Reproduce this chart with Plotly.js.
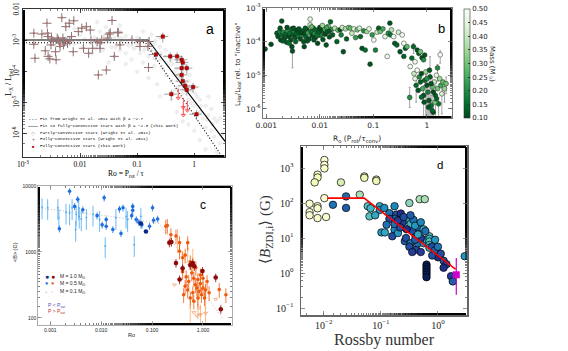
<!DOCTYPE html>
<html>
<head>
<meta charset="utf-8">
<script src="https://cdn.plot.ly/plotly-3.0.1.min.js"></script>
<style>
html, body { margin: 0; padding: 0; background: #fff; }
#fig { width: 568px; height: 351px; }
</style>
</head>
<body>
<div id="fig"></div>
<script>
// ---- panel a : X-ray activity (log Ro, log Lx/Lbol) ----
var aGray = [[-2.3,-3.0],[-2.2,-2.9],[-2.1,-3.1],[-2.0,-2.8],[-1.95,-3.2],[-1.9,-2.6],[-1.85,-3.0],[-1.8,-3.4],[-1.75,-2.9],[-1.7,-3.1],
  [-1.65,-2.7],[-1.6,-3.3],[-1.55,-3.0],[-1.5,-2.8],[-1.45,-3.2],[-1.4,-3.5],[-1.4,-2.9],[-1.35,-3.1],[-1.3,-2.7],[-1.3,-3.3],
  [-1.25,-3.0],[-1.2,-2.85],[-1.2,-3.4],[-1.15,-3.15],[-1.1,-2.95],[-1.1,-3.6],[-1.05,-3.25],[-1.0,-2.9],[-1.0,-3.1],[-0.95,-3.4],
  [-0.9,-3.0],[-0.9,-3.7],[-0.85,-3.2],[-0.8,-2.95],[-0.8,-3.5],[-0.75,-3.3],[-0.7,-3.1],[-0.7,-3.8],[-0.65,-3.4],[-0.6,-3.6],
  [-0.6,-3.2],[-0.55,-3.9],[-0.5,-3.5],[-0.5,-4.1],[-0.45,-3.8],[-0.4,-4.3],[-0.4,-3.6],[-0.35,-4.0],[-0.3,-4.5],[-0.3,-3.9],
  [-0.25,-4.2],[-0.2,-4.7],[-0.2,-4.0],[-0.15,-4.4],[-0.1,-4.9],[-0.1,-4.3],[-0.05,-4.6],[0.0,-5.1],[0.0,-4.5],[0.05,-4.8],
  [0.1,-5.3],[0.1,-4.9],[0.15,-5.5],[0.2,-5.1],[0.2,-5.8],[0.25,-5.4],[0.3,-5.9],[0.3,-5.2],[0.35,-6.1],[0.4,-5.6],
  [0.45,-6.3],[0.5,-6.0],[-0.6,-4.8],[-0.8,-4.2],[-0.3,-5.3],[-0.1,-5.7],[0.1,-6.2],[-1.5,-3.7],[-1.0,-4.0],[-0.4,-4.9],
  [0.2,-6.5],[-0.2,-5.6],[-0.9,-2.7],[-1.3,-2.5],[-1.7,-2.4],[-0.6,-2.9],[-0.75,-2.8],[-2.1,-2.6],[-1.55,-2.55],[0.35,-5.5],
  [0.45,-5.5],[-0.05,-5.0],[0.25,-4.8],[-1.2,-3.75],[-0.65,-4.4],[-0.35,-4.6],[0.0,-5.9],[0.4,-6.6],
  [-1.62,-3.05],[-1.48,-3.02],[-1.38,-3.2],[-1.28,-2.92],[-1.18,-3.05],[-1.08,-3.18],[-0.98,-3.02],[-0.88,-3.3],[-0.78,-3.12],
  [-0.68,-3.0],[-0.58,-3.4],[-0.48,-3.7],[-0.38,-3.75],[-0.28,-4.1],[-0.18,-4.55],[-0.08,-4.1],[0.02,-4.7],[0.12,-5.1],[0.22,-5.55],
  [0.32,-5.7],[-1.72,-3.25],[-1.92,-2.95],[-2.02,-3.05],[-1.58,-2.82],[-0.7,-3.55],[-0.5,-3.3],[-0.3,-3.6],[-0.15,-3.8]];
var aWright = [[-2.81,-2.75],[-2.81,-3.11],[-2.79,-3.56],[-2.67,-2.78],[-2.61,-3.32],[-2.58,-2.43],[-2.57,-2.75],[-2.56,-2.86],
  [-2.56,-3.50],[-2.53,-3.58],[-2.50,-2.91],[-2.51,-3.13],[-2.43,-3.35],[-2.42,-3.61],[-2.40,-2.91],[-2.36,-3.07],[-2.35,-3.18],
  [-2.32,-2.25],[-2.30,-2.91],[-2.29,-3.13],[-2.25,-2.54],[-2.19,-2.43],[-2.18,-3.00],[-2.15,-2.86],[-2.11,-2.35],[-2.12,-3.35],
  [-2.03,-2.70],[-1.97,-2.59],[-1.94,-3.24],[-1.89,-2.54],[-1.85,-3.40],[-1.82,-2.65],[-1.81,-2.97],[-1.78,-3.24],[-1.68,-4.10],
  [-1.65,-3.24],[-1.62,-2.97],[-1.54,-3.94],[-1.52,-2.91],[-1.49,-2.78],[-1.44,-2.34],[-1.40,-3.50],[-1.34,-2.72],[-1.30,-3.13],
  [-1.70,-3.03],[-1.65,-3.06],[-1.47,-2.74],[-1.33,-2.74],[-1.09,-2.97],[-0.95,-3.02],[-0.95,-3.18],[-0.79,-3.02],[-0.81,-3.18],
  [-0.80,-3.86],[-2.47,-3.02],[-2.38,-2.98],[-2.27,-3.02],[-2.22,-3.08]];
var aThis = [[-0.55,-2.86],[-0.67,-3.44],[-0.42,-3.50],[-0.30,-3.50],[-0.22,-3.61],[-0.20,-3.70],[-0.22,-3.88],[-0.13,-3.88],
  [-0.22,-4.10],[-0.20,-4.30],[-0.16,-4.45],[-0.02,-4.49],[-0.13,-4.58],[-0.40,-4.72],[0.04,-5.37]];
var aLimits = [[-0.28,-4.55],[-0.19,-4.85],[-0.12,-4.95],[-0.19,-5.10]];
var aFitRo = [0.001, 0.155, 3.5];
var aFitL = [1.07e-3, 1.07e-3, 5.6e-7];
var aWrightFitRo = [0.001, 0.14, 3.1];
var aWrightFitL = [8.7e-4, 8.7e-4, 1.8e-7];
var aLegend = ['Fit from Wright et al. 2011 with β = −2.7', 'Fit to fully−convective stars with β = −2.3 (this work)',
  'Partly−convective stars (Wright et al. 2011)', 'Fully−convective stars (Wright et al. 2011)', 'Fully−convective stars (this work)'];

// ---- panel b : H-alpha activity (log Ro, log L, mass) ----
var bStars = [[-3.02,-4.22,0.12],[-2.91,-4.08,0.11],[-2.71,-3.39,0.12],[-2.80,-3.75,0.13],[-2.78,-3.85,0.12],[-2.75,-3.70,0.18],
  [-2.73,-3.95,0.11],[-2.70,-3.80,0.15],[-2.68,-3.72,0.2],[-2.66,-3.90,0.12],[-2.64,-3.78,0.14],[-2.62,-4.02,0.13],[-2.60,-3.68,0.22],
  [-2.58,-3.85,0.11],[-2.56,-3.75,0.16],[-2.54,-3.95,0.12],[-2.52,-4.15,0.11],[-2.52,-3.62,0.15],[-2.50,-3.80,0.13],[-2.48,-3.70,0.19],
  [-2.46,-3.88,0.12],[-2.44,-3.76,0.14],[-2.42,-3.66,0.11],[-2.40,-3.84,0.17],[-2.38,-3.72,0.13],[-2.36,-3.92,0.12],[-2.34,-3.80,0.21],
  [-2.32,-3.68,0.15],[-2.30,-4.00,0.12],[-2.28,-3.76,0.11],[-2.26,-3.86,0.14],[-2.24,-3.64,0.13],[-2.22,-3.74,0.24],[-2.20,-3.92,0.12],
  [-2.18,-3.33,0.45],[-2.18,-3.50,0.40],[-2.16,-3.70,0.16],[-2.14,-3.82,0.11],[-2.12,-3.60,0.13],[-2.10,-3.76,0.2],[-2.08,-3.88,0.12],
  [-2.06,-3.66,0.15],[-2.04,-4.05,0.11],[-2.02,-3.72,0.14],[-2.00,-3.58,0.12],[-1.98,-3.82,0.18],[-1.96,-3.68,0.13],[-1.94,-3.94,0.12],
  [-1.92,-3.62,0.26],[-1.90,-3.78,0.11],[-1.88,-4.10,0.12],[-1.86,-3.70,0.15],[-1.84,-3.55,0.32],[-1.82,-3.86,0.12],[-1.80,-3.41,0.14],
  [-1.78,-3.64,0.2],[-1.76,-3.80,0.13],[-2.74,-3.60,0.12],[-2.69,-3.98,0.13],[-2.61,-3.58,0.11],[-2.57,-4.05,0.15],[-2.49,-3.60,0.12],
  [-2.45,-4.00,0.14],[-2.39,-3.62,0.12],[-2.35,-3.74,0.11],[-2.27,-3.60,0.13],[-2.23,-3.98,0.12],[-2.15,-3.56,0.28],[-2.11,-3.95,0.12],
  [-2.05,-3.82,0.16],[-1.99,-3.62,0.11],[-1.95,-3.52,0.35],[-1.87,-3.58,0.24],[-1.83,-3.70,0.12],[-2.51,-4.28,0.12],[-2.29,-4.15,0.11],
  [-1.72,-3.60,0.38],[-1.68,-4.00,0.14],[-1.66,-3.66,0.3],[-1.62,-3.65,0.12],[-1.60,-3.80,0.18],[-1.58,-3.58,0.42],[-1.56,-4.30,0.12],
  [-1.52,-3.62,0.36],[-1.50,-3.92,0.13],[-1.46,-3.58,0.33],[-1.43,-3.60,0.28],[-1.40,-3.75,0.4],[-1.36,-3.62,0.45],[-1.33,-3.88,0.22],
  [-1.30,-3.65,0.3],[-1.26,-3.60,0.42],[-1.24,-3.85,0.14],[-1.21,-4.20,0.12],[-1.18,-3.68,0.2],[-1.15,-4.25,0.15],[-1.12,-3.70,0.35],
  [-1.08,-3.62,0.46],[-1.06,-4.67,0.12],[-1.02,-3.80,0.22],[-0.99,-3.95,0.5],[-0.96,-4.25,0.18],[-0.93,-3.72,0.4],[-0.90,-3.60,0.13],
  [-0.87,-3.70,0.3],[-0.82,-3.62,0.25],[-0.78,-3.85,0.45],[-0.74,-4.44,0.48],[-0.72,-3.75,0.2],[-0.69,-3.45,0.12],[-0.68,-3.80,0.16],
  [-0.66,-3.65,0.38],[-0.62,-3.85,0.48],[-0.60,-4.05,0.13],[-0.56,-4.10,0.14],[-0.53,-3.72,0.42],[-0.50,-4.30,0.12],[-0.46,-3.80,0.5],
  [-0.43,-4.05,0.5],[-0.43,-4.44,0.13],[-0.40,-4.20,0.12],[-0.37,-4.15,0.28],[-0.32,-5.66,0.2],[-0.31,-4.74,0.48],[-0.28,-4.49,0.15],
  [-0.25,-4.15,0.14],[-0.22,-4.60,0.47],[-0.18,-4.25,0.12],[-0.15,-4.35,0.13],[-0.12,-4.30,0.3],[-0.09,-4.48,0.11],[-0.06,-4.54,0.2],
  [-0.04,-4.40,0.12],[-0.24,-4.95,0.4],[-0.22,-5.10,0.45],[-0.20,-5.30,0.15],[-0.18,-4.85,0.5],[-0.16,-5.45,0.12],[-0.14,-5.05,0.2],
  [-0.12,-5.20,0.13],[-0.10,-4.95,0.11],[-0.08,-5.40,0.25],[-0.06,-5.60,0.12],[-0.04,-5.15,0.14],[-0.02,-4.90,0.35],[0.0,-5.30,0.11],
  [0.02,-5.50,0.18],[0.04,-5.75,0.12],[0.06,-5.05,0.13],[0.08,-5.90,0.15],[0.10,-5.35,0.28],[0.12,-6.10,0.12],[0.14,-5.20,0.4],
  [0.16,-5.60,0.13],[0.18,-5.00,0.45],[0.20,-5.40,0.3],[0.22,-5.85,0.16],[0.24,-5.10,0.35],[0.26,-5.30,0.25],[0.28,-5.55,0.42],
  [0.30,-5.20,0.28],[0.33,-5.40,0.34],[0.36,-5.25,0.3],[0.25,-4.39,0.5],[0.20,-4.78,0.2],[0.05,-4.85,0.13],[-0.05,-5.80,0.12],
  [0.1,-6.05,0.14],[0.03,-5.95,0.12],[0.15,-5.80,0.3],[-0.1,-5.65,0.15],[0.0,-5.10,0.2],[0.12,-5.50,0.11],[0.08,-5.25,0.12],[0.18,-5.70,0.14]];
// error bars: log Ro, log L, up (dex), down (dex)
var bErrors = [[-2.51,-4.28,0.05,0.5],[-0.32,-5.66,0.3,0.3],[0.25,-4.39,0.12,0.25],[0.20,-4.78,0.1,0.4],[-0.06,-5.60,0.3,0.8],
  [0.04,-5.75,0.3,0.6],[0.08,-5.90,0.3,0.5],[0.12,-6.10,0.2,0.3],[0.16,-5.60,0.3,0.7],[0.02,-5.50,0.4,0.8],[-0.02,-5.3,0.4,1.0],
  [0.10,-5.35,0.3,0.9],[0.22,-5.85,0.2,0.5],[0.28,-5.55,0.3,0.6],[0.33,-5.40,0.2,0.4],[-0.20,-5.30,0.2,0.5],[0.06,-5.05,0.6,1.3],
  [0.0,-5.30,0.4,1.0],[-0.25,-4.15,0.1,0.2],[0.36,-5.25,0.2,0.3]];
var massTicks = [0.10, 0.15, 0.20, 0.25, 0.30, 0.35, 0.40, 0.45, 0.50];

// ---- panel c : ZDI field strength (log Ro, log B) ----
var cBlue01 = [[-3.16,3.68],[-3.05,3.67],[-2.85,3.67],[-2.83,3.52],[-2.69,3.60],[-2.62,3.59],[-2.57,3.67],[-2.49,3.57],[-2.44,3.67],
  [-2.43,3.54],[-2.39,3.50],[-2.29,3.52],[-2.16,3.57],[-2.03,3.49],[-1.92,3.09],[-1.71,3.52],[-1.51,3.54],[-1.48,3.49],[-1.35,3.11],
  [-1.22,3.54],[-2.50,3.34]];
var cBlue05 = [[-2.62,3.92],[-2.52,3.69],[-2.46,3.80],[-2.36,3.64],[-1.94,3.82],[-1.90,3.49],[-1.90,3.39],[-1.98,3.41],[-1.77,3.34],
  [-1.64,3.65],[-1.57,3.67],[-1.61,3.28],[-1.38,3.69],[-1.38,3.63],[-1.31,3.49],[-1.26,3.45],[-1.20,3.41],[-1.05,3.39],[-0.99,3.67],
  [-0.97,3.48],[-0.89,3.50],[-1.40,3.55],[-2.08,3.55],[-2.82,3.35]];
var cBlue1 = [[-1.12,3.31],[-1.22,3.43]];
var cRed05 = [[-0.73,3.39],[-0.70,3.40],[-0.63,3.26],[-0.53,3.24],[-0.46,3.14],[-0.46,3.01],[-0.40,2.91],[-0.30,3.14],[-0.35,2.95],
  [-0.25,2.85],[-0.40,2.70],[-0.33,2.62],[-0.28,2.55],[-0.22,2.68],[-0.18,2.60],[-0.15,2.50],[-0.12,2.45],[-0.10,2.58],[-0.08,2.40],
  [-0.05,2.52],[-0.03,2.35],[0.00,2.45],[0.03,2.30],[0.05,2.42],[-0.20,2.38],[-0.25,2.30],[-0.30,2.42],[-0.35,2.48],[-0.14,2.76],
  [0.32,2.43],[0.45,2.35],[0.12,2.38],[-0.05,2.65],[0.08,2.55],[-0.38,2.35],[-0.18,2.25],[-0.10,2.30],[0.0,2.60]];
var cRed1 = [[-0.66,3.14],[-0.62,3.15],[-0.53,2.83],[-0.20,2.83],[-0.17,2.78],[-0.46,2.58],[-0.40,2.75],[-0.01,2.71],[0.25,2.61],
  [0.35,2.13],[-0.25,2.80]];
var cRed01 = [[-0.50,3.20],[-0.30,3.05],[-0.20,2.90],[-0.10,2.20],[0.05,2.15],[-0.05,2.05],[-0.25,2.15]];
var cLimits = [[-0.56,2.50],[-0.18,2.08],[-0.12,2.03],[-0.05,2.05],[0.05,2.07],[0.25,2.28],[-0.08,2.15]];
var cFitRo = [0.0006, 0.0126, 0.138, 0.2, 0.4, 1.0, 2.5];
var cFitB = [4600, 3550, 2700, 1800, 850, 250, 95];

// ---- panel d : B_ZDI vs Rossby number (log Ro, log B, colour value) ----
var dStars = [[-1.99,3.23,0.02],[-1.99,3.09,0.02],[-1.99,2.99,0.03],[-2.11,2.81,0.08],[-2.11,2.73,0.08],[-2.16,2.59,0.1],
  [-1.99,2.14,0.03],[-2.25,1.98,0.03],[-2.25,1.74,0.03],[-2.25,1.65,0.03],[-2.11,1.91,0.03],[-2.11,1.85,0.04],[-2.11,1.57,0.04],
  [-1.96,1.60,0.04],[-1.70,2.59,0.2],[-1.29,2.76,0.15],[-1.29,2.72,0.12],[-1.08,2.67,0.15],[-1.08,2.63,0.1],[-1.37,2.24,0.3],
  [-1.84,1.95,0.7],[-1.61,2.19,0.72],[-1.61,1.86,0.75],[-1.23,1.91,0.45],[-1.20,1.62,0.45],[-1.18,1.85,0.5],[-1.02,1.91,0.55],
  [-1.02,1.80,0.6],[-0.94,1.86,0.62],[-0.85,1.71,0.7],[-0.76,1.91,0.65],[-0.73,1.67,0.8],[-0.76,1.55,0.75],[-0.99,1.16,0.6],
  [-0.93,1.16,0.55],[-0.76,1.24,0.65],[-0.76,1.40,0.7],[-0.80,1.05,0.8],[-0.70,1.14,0.6],[-0.50,2.00,0.35],[-0.53,1.52,0.55],
  [-0.48,1.40,0.5],[-0.43,1.52,0.7],[-0.32,2.11,0.3],[-0.23,2.11,0.3],[-0.35,1.30,0.75],[-0.25,1.25,0.5],[-0.25,0.95,0.65],
  [-0.58,0.91,0.75],[-0.56,1.00,0.8],[-0.48,0.85,0.7],[-0.38,0.67,0.8],[-0.35,0.85,0.7],[-0.25,0.85,0.6],[-0.20,0.95,0.55],
  [-0.15,1.05,0.45],[-0.15,0.98,0.5],[-0.15,0.90,0.45],[-0.15,0.80,0.5],[-0.15,0.72,0.55],[-0.50,0.75,0.8],[-0.40,1.10,0.85],
  [-0.62,1.45,0.85],[-0.65,1.70,0.9],[-0.66,1.30,0.8],[-0.45,1.20,0.8],[-0.30,1.00,0.85],[-0.40,0.95,0.75],[-0.10,0.75,0.8],
  [-0.05,0.65,0.75],[0.0,0.45,0.9],[0.05,0.55,0.8],[0.10,0.35,0.8],[0.15,0.25,0.85],[0.23,-0.09,0.85],[0.26,-0.24,0.75],
  [0.47,0.48,0.6],[-0.85,1.55,0.8],[-0.90,1.38,0.7],[-1.10,1.65,0.55],[-0.30,0.60,0.85],[-0.10,0.50,0.8],[0.0,0.75,0.7],
  [-0.05,0.95,0.6],[0.10,0.15,0.9],[-0.55,1.25,0.9],[-0.70,1.50,0.85],[-0.60,1.60,0.8],[-0.48,1.65,0.75],[-0.40,1.35,0.6],
  [-0.35,1.10,0.55],[-0.30,1.45,0.65],[-0.22,1.20,0.7],[-0.45,0.60,0.85],
  [-0.20,0.24,1.0],[-0.20,0.17,1.0],[-0.20,0.10,1.0],[-0.20,0.03,1.0],[-0.20,-0.04,1.0],[-0.20,-0.12,1.0]];
var dFitRo = [0.0115, 0.051, 2.05];
var dFitB = [138, 138, 1.28];
var dSunRo = [2.1];
var dSunB = [0.89];
var dSunUp = [1.8];
var dSunDown = [0.65];

// ---------------------------------------------------------------
var W = 568, H = 351;
function fx(p) { return p / W; }
function fy(p) { return 1 - p / H; }
function col(rows, i, isLog) { return rows.map(function (r) { return isLog ? Math.pow(10, r[i]) : r[i]; }); }

var greens = [[0,'#00441b'],[0.125,'#006d2c'],[0.25,'#238b45'],[0.375,'#41ab5d'],[0.5,'#74c476'],[0.625,'#a1d99b'],[0.75,'#c7e9c0'],[0.875,'#e5f5e0'],[1,'#f7fcf5']];
var ylgnbu = [[0,'#ffffd9'],[0.125,'#edf8b1'],[0.25,'#c7e9b4'],[0.375,'#7fcdbb'],[0.5,'#41b6c4'],[0.625,'#1d91c0'],[0.75,'#225ea8'],[0.875,'#253494'],[1,'#081d58']];

function logAxis(dom, rng, anchor, extra) {
    var ax = {
        type: 'log', domain: dom, range: rng, anchor: anchor,
        showgrid: false, zeroline: false, showline: true, mirror: 'allticks',
        linecolor: '#000', linewidth: 0.8,
        ticks: 'inside', ticklen: 4, tickwidth: 0.7, tickcolor: '#000',
        tickmode: 'array',
        minor: {ticks: 'inside', ticklen: 2, tickwidth: 0.5, tickcolor: '#000', showgrid: false}
    };
    for (var k in extra) ax[k] = extra[k];
    return ax;
}

var data = [];

// panel a
data.push({x: col(aGray, 0, true), y: col(aGray, 1, true), xaxis: 'x', yaxis: 'y', type: 'scatter', mode: 'markers',
    marker: {symbol: 'diamond', size: 3.2, color: '#f0f0f0', line: {color: '#dadada', width: 0.5}}});
data.push({x: aWrightFitRo, y: aWrightFitL, xaxis: 'x', yaxis: 'y', type: 'scatter', mode: 'lines',
    line: {color: '#000', width: 1.1, dash: '1px,2px'}});
data.push({x: aFitRo, y: aFitL, xaxis: 'x', yaxis: 'y', type: 'scatter', mode: 'lines',
    line: {color: '#000', width: 1.1}});
data.push({x: col(aWright, 0, true), y: col(aWright, 1, true), xaxis: 'x', yaxis: 'y', type: 'scatter', mode: 'markers',
    marker: {symbol: 'cross-thin-open', size: 6.5, color: '#8a7676', line: {color: '#8a7676', width: 1}}});
data.push({x: col(aWright, 0, true), y: col(aWright, 1, true), xaxis: 'x', yaxis: 'y', type: 'scatter', mode: 'markers',
    marker: {symbol: 'circle', size: 2.2, color: '#b86a6a'}});
var limY = col(aLimits, 1, true);
data.push({x: col(aLimits, 0, true), y: limY, xaxis: 'x', yaxis: 'y', type: 'scatter', mode: 'markers',
    marker: {size: 1, color: '#ff4040'},
    error_y: {type: 'data', symmetric: false, array: limY.map(function () { return 0; }),
        arrayminus: limY.map(function (v) { return v * (1 - Math.pow(10, -0.3)); }), color: '#ff4040', thickness: 0.9, width: 0}});
data.push({x: col(aLimits, 0, true), y: limY.map(function (v) { return v * Math.pow(10, -0.3); }), xaxis: 'x', yaxis: 'y',
    type: 'scatter', mode: 'markers', marker: {symbol: 'triangle-down-open', size: 3.5, color: '#ff4040', line: {color: '#ff4040', width: 0.9}}});
data.push({x: col(aThis, 0, true), y: col(aThis, 1, true), xaxis: 'x', yaxis: 'y', type: 'scatter', mode: 'markers',
    marker: {symbol: 'square', size: 3.5, color: '#c80000', line: {color: '#500', width: 0.4}},
    error_x: {type: 'percent', value: 25, color: '#777', thickness: 0.7, width: 0},
    error_y: {type: 'percent', value: 35, color: '#777', thickness: 0.7, width: 0}});

// panel b
var eY = col(bErrors, 1, true);
data.push({x: col(bErrors, 0, true), y: eY, xaxis: 'x2', yaxis: 'y2', type: 'scatter', mode: 'markers',
    marker: {size: 1, color: 'rgba(0,0,0,0)'},
    error_y: {type: 'data', symmetric: false,
        array: bErrors.map(function (r, i) { return eY[i] * (Math.pow(10, r[2]) - 1); }),
        arrayminus: bErrors.map(function (r, i) { return eY[i] * (1 - Math.pow(10, -r[3])); }),
        color: '#9a9a9a', thickness: 0.9, width: 1}});
data.push({x: col(bStars, 0, true), y: col(bStars, 1, true), xaxis: 'x2', yaxis: 'y2', type: 'scatter', mode: 'markers',
    marker: {size: 4.8, color: col(bStars, 2, false), colorscale: greens, cmin: 0.1, cmax: 0.5,
        line: {color: '#1e2a1e', width: 0.5}, showscale: true,
        colorbar: {xref: 'paper', yref: 'paper', x: fx(464), xanchor: 'left', y: fy(9), yanchor: 'top',
            len: 109 / H, lenmode: 'fraction', thickness: 6, xpad: 0, ypad: 0,
            outlinecolor: '#333', outlinewidth: 0.6, ticks: 'inside', ticklen: 2, tickcolor: '#333',
            tickmode: 'array', tickvals: massTicks, ticktext: massTicks.map(function (m) { return m.toFixed(2); }),
            tickfont: {family: 'DejaVu Sans', size: 7, color: '#222'}}}});

// panel c
data.push({x: cFitRo, y: cFitB, xaxis: 'x3', yaxis: 'y3', type: 'scatter', mode: 'lines',
    line: {color: '#bbbbbb', width: 1, dash: '1px,2px'}});
function cGroup(rows, color, size, err, symbol) {
    return {x: col(rows, 0, true), y: col(rows, 1, true), xaxis: 'x3', yaxis: 'y3', type: 'scatter', mode: 'markers',
        marker: {symbol: symbol || 'circle', size: size, color: color, line: {width: 0}},
        error_y: {type: 'percent', value: err, color: color, thickness: 0.8, width: 0, visible: err > 0}};
}
data.push(cGroup(cBlue01, '#4aa8f0', 1.8, 35));
data.push(cGroup(cRed01, '#f7a868', 1.8, 40));
data.push({x: col(cLimits, 0, true), y: col(cLimits, 1, true), xaxis: 'x3', yaxis: 'y3', type: 'scatter', mode: 'markers',
    marker: {symbol: 'triangle-down-open', size: 3.5, color: '#f5a070', line: {color: '#f5a070', width: 0.8}}});
data.push(cGroup(cRed05, '#f05a0c', 3.6, 25));
data.push(cGroup(cBlue05, '#1d6ee0', 3.6, 12));
data.push(cGroup(cRed1, '#8e0a0a', 4.6, 15));
data.push(cGroup(cBlue1, '#0a2a8a', 4.6, 0));

// panel d
data.push({x: col(dStars, 0, true), y: col(dStars, 1, true), xaxis: 'x4', yaxis: 'y4', type: 'scatter', mode: 'markers',
    marker: {size: 7.5, color: col(dStars, 2, false), colorscale: ylgnbu, cmin: 0, cmax: 1,
        line: {color: '#000', width: 0.7}}});
data.push({x: dFitRo, y: dFitB, xaxis: 'x4', yaxis: 'y4', type: 'scatter', mode: 'lines',
    line: {color: '#ff0000', width: 1.6}});
data.push({x: dSunRo, y: dSunB, xaxis: 'x4', yaxis: 'y4', type: 'scatter', mode: 'markers',
    marker: {symbol: 'square', size: 7, color: '#cc00cc'},
    error_y: {type: 'data', symmetric: false, array: dSunUp, arrayminus: dSunDown, color: '#cc00cc', thickness: 1.2, width: 0}});

var serif = 'Liberation Serif';
var sans = 'Liberation Sans';

var layout = {
    width: W, height: H,
    margin: {l: 0, r: 0, t: 0, b: 0},
    paper_bgcolor: '#fff', plot_bgcolor: '#fff',
    showlegend: false,
    xaxis: logAxis([fx(23), fx(225)], [-3, 0.54], 'y', {
        tickvals: [0.001, 0.01, 0.1, 1], ticktext: ['10<sup>-3</sup>', '0.01', '0.1', '1'],
        tickfont: {family: serif, size: 7.5, color: '#000'}}),
    yaxis: logAxis([fy(157), fy(9)], [-6.75, -1.97], 'x', {
        tickvals: [0.01, 1e-3, 1e-4, 1e-5, 1e-6], ticktext: ['0.01', '10<sup>-3</sup>', '10<sup>-4</sup>', '10<sup>-5</sup>', '10<sup>-6</sup>'],
        tickangle: -90, tickfont: {family: serif, size: 7.5, color: '#000'}}),
    xaxis2: logAxis([fx(263), fx(452)], [-3.06, 0.47], 'y2', {
        linecolor: '#555', tickcolor: '#555',
        tickvals: [0.001, 0.01, 0.1, 1], ticktext: ['0.001', '0.01', '0.1', '1'],
        tickfont: {family: 'DejaVu Sans', size: 7.5, color: '#222'}}),
    yaxis2: logAxis([fy(118), fy(8)], [-6.27, -3.0], 'x2', {
        linecolor: '#555', tickcolor: '#555',
        tickvals: [1e-3, 1e-4, 1e-5, 1e-6], ticktext: ['10<sup>-3</sup>', '10<sup>-4</sup>', '10<sup>-5</sup>', '10<sup>-6</sup>'],
        tickfont: {family: 'DejaVu Sans', size: 7.5, color: '#222'}}),
    xaxis3: logAxis([fx(38), fx(232)], [-3.24, 0.57], 'y3', {
        linecolor: '#888', tickcolor: '#888', linewidth: 0.7,
        tickvals: [0.001, 0.01, 0.1, 1], ticktext: ['0.001', '0.010', '0.100', '1.000'],
        tickfont: {family: sans, size: 5, color: '#222'}}),
    yaxis3: logAxis([fy(325), fy(186)], [1.89, 4.0], 'x3', {
        linecolor: '#888', tickcolor: '#888', linewidth: 0.7,
        tickvals: [100, 1000, 10000], ticktext: ['100', '1000', '10000'],
        tickfont: {family: sans, size: 5, color: '#222'}}),
    xaxis4: logAxis([fx(301), fx(467)], [-2.4, 0.51], 'y4', {
        linecolor: '#666', tickcolor: '#666', linewidth: 1.5,
        tickvals: [0.01, 0.1, 1], ticktext: ['10<sup>−2</sup>', '10<sup>−1</sup>', '10<sup>0</sup>'],
        tickfont: {family: serif, size: 10, color: '#222'}}),
    yaxis4: logAxis([fy(315), fy(146)], [-1.2, 3.63], 'x4', {
        linecolor: '#666', tickcolor: '#666', linewidth: 1.5,
        tickvals: [0.1, 1, 10, 100, 1000], ticktext: ['10<sup>−1</sup>', '10<sup>0</sup>', '10<sup>1</sup>', '10<sup>2</sup>', '10<sup>3</sup>'],
        ticklabelstandoff: 4,
        tickfont: {family: serif, size: 10, color: '#222'}}),
    annotations: []
};

function note(x, y, text, font, extra) {
    var a = {xref: 'paper', yref: 'paper', x: fx(x), y: fy(y), text: text, showarrow: false,
        xanchor: 'center', yanchor: 'middle', font: font};
    for (var k in extra) a[k] = extra[k];
    layout.annotations.push(a);
}

// panel a texts
note(210, 29, 'a', {family: sans, size: 14, color: '#000'});
note(126, 174, 'Ro = P<sub>rot</sub> / τ', {family: serif, size: 7.5, color: '#000'});
note(9, 82, 'L<sub>X</sub> / L<sub>bol</sub>', {family: serif, size: 8, color: '#000'}, {textangle: -90});
var legSym = ['- - -', '——', '◇', '+', '■'];
var legCol = ['#000', '#000', '#aaa', '#8c6a6a', '#c80000'];
for (var i = 0; i < aLegend.length; i++) {
    note(33, 119 + i * 6.8, legSym[i], {family: sans, size: i === 4 ? 4 : 5, color: legCol[i]});
    note(38, 119 + i * 6.8, aLegend[i], {family: 'Liberation Mono', size: 4.2, color: '#000'}, {xanchor: 'left'});
}

// panel b texts
note(441, 29, 'b', {family: sans, size: 13, color: '#000'});
note(357, 139, 'R<sub>o</sub> (P<sub>rot</sub>/τ<sub>conv</sub>)', {family: 'DejaVu Sans', size: 7.5, color: '#222'});
note(238, 64, 'L<sub>Hα</sub>/L<sub>bol</sub> rel. to "inactive"', {family: 'DejaVu Sans', size: 7, color: '#222'}, {textangle: -90});
note(492, 64, 'Mass (M<sub>☉</sub>)', {family: 'DejaVu Sans', size: 7, color: '#222'}, {textangle: 90});

// panel c texts
note(203, 205, 'c', {family: sans, size: 12, color: '#000'});
note(131, 335, 'Ro', {family: sans, size: 5.5, color: '#222'});
note(15, 252, '&lt;B&gt; (G)', {family: sans, size: 5.5, color: '#222'}, {textangle: -90});
note(46.5, 276, '●', {family: sans, size: 7, color: '#0a2a8a'});
note(52.5, 276, '●', {family: sans, size: 7, color: '#8e0a0a'});
note(46.5, 283, '●', {family: sans, size: 5.5, color: '#1d6ee0'});
note(52.5, 283, '●', {family: sans, size: 5.5, color: '#f05a0c'});
note(46.5, 291, '+', {family: sans, size: 4, color: '#4aa8f0'});
note(52.5, 291, '+', {family: sans, size: 4, color: '#f7a868'});
note(57.5, 276, 'M = 1.0 M<sub>⊙</sub>', {family: sans, size: 5, color: '#222'}, {xanchor: 'left'});
note(57.5, 283, 'M = 0.5 M<sub>⊙</sub>', {family: sans, size: 5, color: '#222'}, {xanchor: 'left'});
note(57.5, 291, 'M = 0.1 M<sub>⊙</sub>', {family: sans, size: 5, color: '#222'}, {xanchor: 'left'});
note(46, 305.5, 'P &lt; P<sub>sat</sub>', {family: sans, size: 5, color: '#5050c0'}, {xanchor: 'left'});
note(46, 311, 'P &gt; P<sub>sat</sub>', {family: sans, size: 5, color: '#c03030'}, {xanchor: 'left'});

// panel d texts
note(440, 165, 'd', {family: sans, size: 11.5, color: '#000'});
note(384, 340, 'Rossby number', {family: serif, size: 16, color: '#333'});
note(266, 230, '⟨<i>B</i><sub>ZDI,i</sub>⟩ (G)', {family: serif, size: 15, color: '#333'}, {textangle: -90});

Plotly.newPlot('fig', data, layout, {staticPlot: true, displayModeBar: false});
</script>
</body>
</html>
